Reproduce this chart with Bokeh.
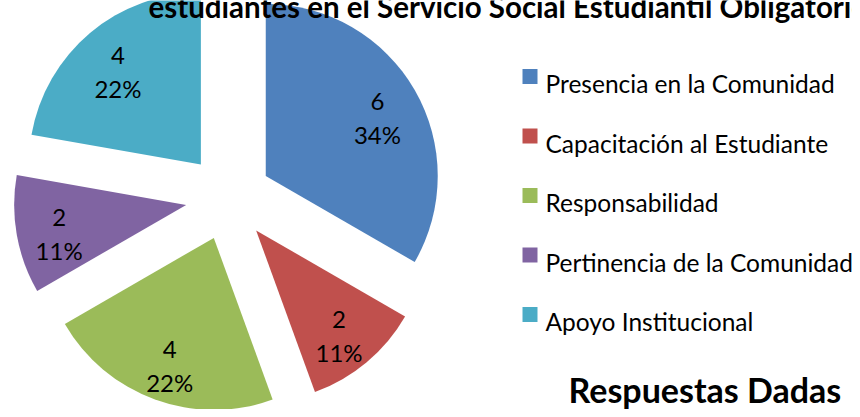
import numpy as np
from bokeh.plotting import figure
from bokeh.models import Range1d, ColumnDataSource
from bokeh.core.properties import value
from bokeh.embed import file_html
from bokeh.resources import INLINE

# ---- data ----
categories = ["Presencia en la Comunidad", "Capacitación al Estudiante",
              "Responsabilidad", "Pertinencia de la Comunidad", "Apoyo Institucional"]
counts = [6, 2, 4, 2, 4]
pct_labels = ["34%", "11%", "22%", "11%", "22%"]
colors = ["#4F81BD", "#C0504D", "#9BBB59", "#8064A2", "#4BACC6"]
title_line = "estudiantes en el Servicio Social Estudiantil Obligatorio"
subtitle = "Respuestas  Dadas"

# ---- layout (pixel-like data units, y up; data y = 417 - screen y) ----
W, H = 852, 417
FH = 409
cx, cy = 228, H - 205
radius = 172
explode = 43
label_frac = 0.75

vals = np.array(counts, dtype=float)
cum = np.concatenate([[0], np.cumsum(vals)]) / vals.sum()
end_a = np.pi / 2 - cum[:-1] * 2 * np.pi
start_a = np.pi / 2 - cum[1:] * 2 * np.pi
mid = (start_a + end_a) / 2
tip_x = cx + explode * np.cos(mid)
tip_y = cy + explode * np.sin(mid)
lab_x = tip_x + label_frac * radius * np.cos(mid)
lab_y = tip_y + label_frac * radius * np.sin(mid)

src = ColumnDataSource(dict(x=tip_x, y=tip_y, s=start_a, e=end_a, c=colors,
                            lx=lab_x, vy=lab_y + 10, py=lab_y - 23,
                            vt=[str(v) for v in counts], pt=pct_labels))

p = figure(frame_width=W, frame_height=FH, output_backend="svg",
           toolbar_location=None, min_border=0,
           x_range=Range1d(0, W), y_range=Range1d(H - 8 - FH, H - 8))
p.axis.visible = False
p.grid.visible = False
p.outline_line_color = None
p.background_fill_color = "white"
p.border_fill_color = "white"

p.wedge(x="x", y="y", radius=radius, start_angle="s", end_angle="e",
        direction="anticlock", fill_color="c", line_color=None, source=src)

font = value("Lato")
p.text(x="lx", y="vy", text="vt", source=src, text_font=font, text_font_size="24px",
       text_align="center", text_baseline="alphabetic", text_color="black")
p.text(x="lx", y="py", text="pt", source=src, text_font=font, text_font_size="24px",
       text_align="center", text_baseline="alphabetic", text_color="black")

# legend
n = len(categories)
leg_y = np.array([H - (84 + 59.5 * i) for i in range(n)])
p.rect(x=[529.5] * n, y=leg_y, width=15, height=15, fill_color=colors, line_color=None)
p.text(x=[545] * n, y=leg_y - 7, text=categories, text_font=font, text_font_size="24.5px",
       text_align="left", text_baseline="alphabetic", text_color="black")

# titles
p.text(x=[148], y=[H - 14], text=[title_line], text_font=font, text_font_size="29.5px",
       text_font_style="bold", text_align="left", text_baseline="alphabetic", text_color="black")
p.text(x=[568], y=[H - 397], text=[subtitle], text_font=font, text_font_size="34px",
       text_font_style="bold", text_align="left", text_baseline="alphabetic", text_color="black")

open("out.html", "w").write(file_html(p, INLINE))
